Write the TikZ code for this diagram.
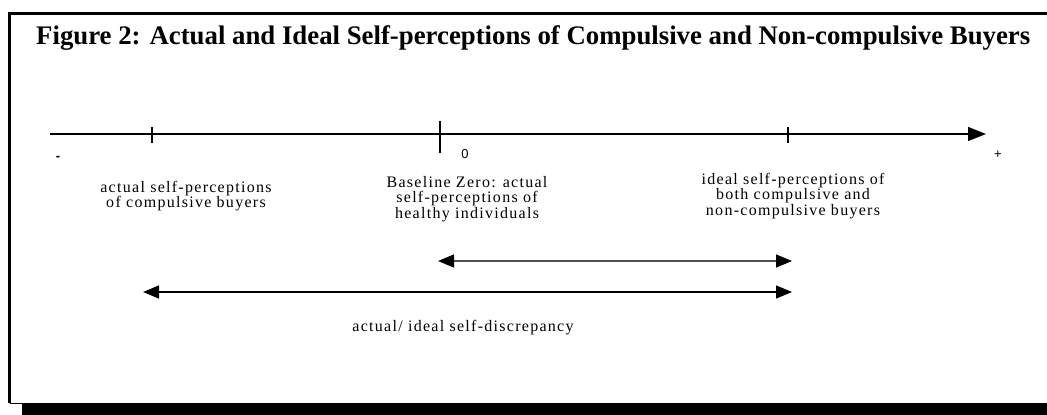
\documentclass[tikz,border=0pt]{standalone}
\usepackage{fontspec}
\setmainfont{Liberation Serif}
\newfontfamily\lblfont[LetterSpace=8]{Liberation Serif}
\newfontfamily\symfont{Liberation Sans}
\usetikzlibrary{arrows.meta}
\begin{document}
\begin{tikzpicture}[x=1pt,y=-1pt,
  lbl/.style={font=\lblfont\fontsize{16}{15.5}\selectfont,align=center,inner sep=0pt,anchor=north},
  symb/.style={font=\symfont\fontsize{13}{15}\selectfont,inner sep=0pt},
  axisline/.style={line width=1.4pt,-{Triangle[length=18pt,width=14pt]}},
  tickmark/.style={line width=1.4pt},
  span/.style={line width=1.4pt,{Triangle[length=16pt,width=13pt,color=black]}-{Triangle[length=16pt,width=13pt,color=black]}}]
\useasboundingbox (0,0) rectangle (1047,415);
% frame with shadow
\fill[black] (22,403) rectangle (1047,415);
\draw[line width=3pt] (9.5,403) -- (9.5,13) -- (1060,13);
\draw[line width=1.5pt] (9.5,403.5) -- (22,403.5);
% title
\node[anchor=base west,inner sep=0pt] (title) at (36,45) {\resizebox{994pt}{!}{\bfseries Figure 2: Actual and Ideal Self-perceptions of Compulsive and Non-compulsive Buyers}};
% axis
\coordinate (axs) at (50,134);
\coordinate (axe) at (986,134);
\draw[axisline] (axs) -- (axe);
\coordinate (t1a) at (152,127); \coordinate (t1b) at (152,143);
\coordinate (t0a) at (440,121); \coordinate (t0b) at (440,153);
\coordinate (t2a) at (788,127); \coordinate (t2b) at (788,143);
\draw[tickmark] (t1a) -- (t1b);
\draw[tickmark] (t0a) -- (t0b);
\draw[tickmark] (t2a) -- (t2b);
\node[symb] (minus) at (58,158) {\textbf{-}};
\node[symb] (plus) at (998,155) {+};
\node[symb] (zero) at (465,154) {0};
% labels
\node[lbl] (actual) at (186,181) {actual self-perceptions\\of compulsive buyers};
\node[lbl] (base) at (467,176) {Baseline Zero: actual\\self-perceptions of\\healthy individuals};
\node[lbl] (ideal) at (793,173) {ideal self-perceptions of\\both compulsive and\\non-compulsive buyers};
% spans
\coordinate (u1) at (438,261); \coordinate (u2) at (792,261);
\coordinate (l1) at (143,292); \coordinate (l2) at (792,292);
\draw[span,draw={rgb,255:red,80;green,80;blue,80}] (u1) -- (u2);
\draw[span] (l1) -- (l2);
\node[lbl] (disc) at (463,320) {actual/ ideal self-discrepancy};
\end{tikzpicture}
\end{document}
